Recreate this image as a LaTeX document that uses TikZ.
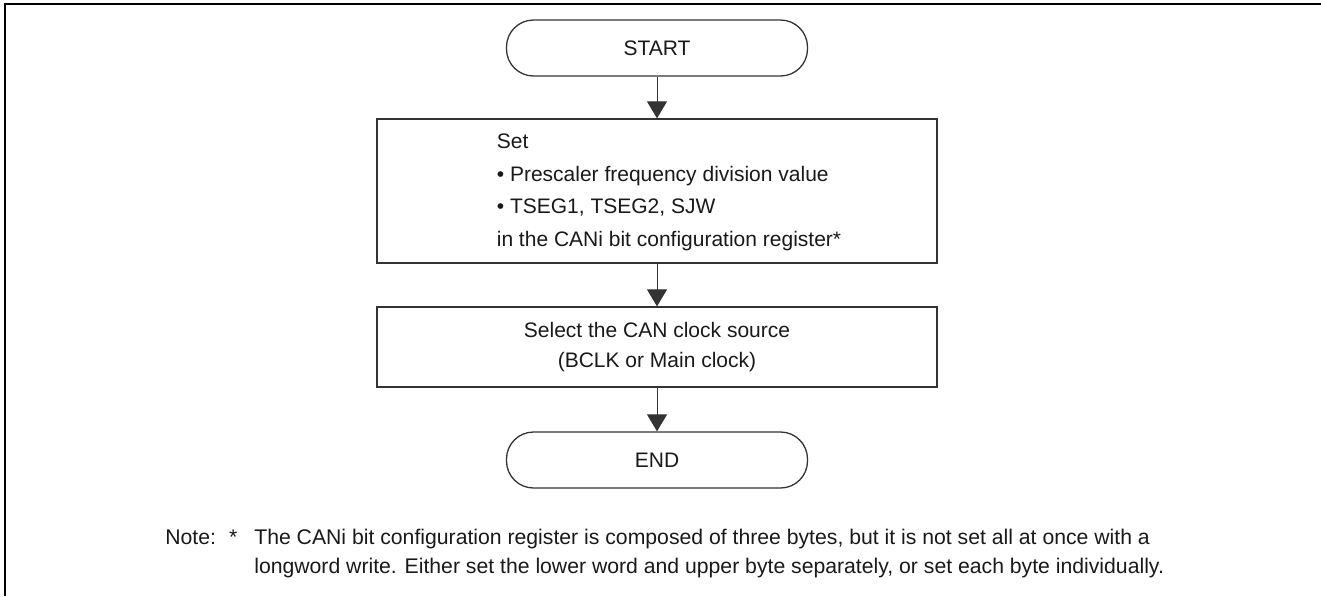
\documentclass[tikz,border=0pt]{standalone}
\usepackage{fontspec}
\setmainfont{Liberation Sans}
\usetikzlibrary{arrows.meta}
\begin{document}
\begin{tikzpicture}[x=0.5pt,y=-0.5pt]
\tikzset{termin/.style={draw=black!80, line width=0.65pt, rounded corners=13.5pt, minimum width=150.5pt, minimum height=28pt, inner sep=0pt, text=black!90, font=\fontsize{10.5pt}{12pt}\selectfont},
boite/.style={draw=black!80, line width=0.65pt, minimum width=280pt, inner sep=0pt, text=black!90},
fleche/.style={-{Triangle[width=10pt,length=8.5pt]}, line width=0.5pt, draw=black!80},
remarque/.style={anchor=base west, inner sep=0pt, text=black!90, font=\fontsize{10.6pt}{14.5pt}\selectfont}}
\useasboundingbox (0,0) rectangle (1321,596);
\draw[line width=1.25pt] (1321,4) -- (5,4) -- (5,596);
\node[termin] (Start) at (657,48) {START};
\node[boite, minimum height=72pt, font=\fontsize{10.5pt}{16.2pt}\selectfont] (Reg) at (657,191) {\begin{tabular}{@{\hspace{12pt}}l@{}}Set\\ \textbullet{} Prescaler frequency division value\\ \textbullet{} TSEG1, TSEG2, SJW\\ in the CANi bit configuration register*\end{tabular}};
\node[boite, minimum height=40pt, align=center, font=\fontsize{10.5pt}{15pt}\selectfont] (Clk) at (657,347) {Select the CAN clock source\\ (BCLK or Main clock)};
\node[termin] (End) at (657,460) {END};
\draw[fleche] (Start) -- (Reg);
\draw[fleche] (Reg) -- (Clk);
\draw[fleche] (Clk) -- (End);
\node[remarque] (Note) at (165,544) {\begin{tabular}[t]{@{}l@{\hspace{6.5pt}}l@{\hspace{8.5pt}}l@{}}Note: & * & The CANi bit configuration register is composed of three bytes, but it is not set all at once with a\\ & & longword write. Either set the lower word and upper byte separately, or set each byte individually.\end{tabular}};
\end{tikzpicture}
\end{document}
